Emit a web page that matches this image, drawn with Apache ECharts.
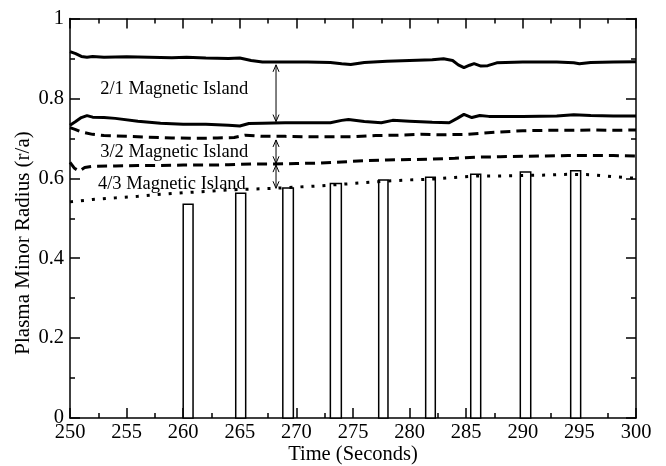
<!DOCTYPE html>
<html>
<head>
<meta charset="utf-8">
<script src="https://cdn.jsdelivr.net/npm/echarts@6/dist/echarts.min.js"></script>
<style>html,body{margin:0;padding:0;background:#fff;}#c{width:666px;height:466px;}</style>
</head>
<body>
<div id="c"></div>
<script>
// ---- Data ----
const xTitle = 'Time (Seconds)';
const yTitle = 'Plasma Minor Radius (r/a)';

// vertical bars: start time, end time, height (r/a)
const barStart = [260.0, 264.64, 268.8, 273.0, 277.27, 281.42, 285.4, 289.78, 294.23];
const barEnd   = [260.87, 265.52, 269.73, 273.97, 278.09, 282.27, 286.28, 290.7, 295.11];
const barTop   = [0.535, 0.5625, 0.576, 0.587, 0.596, 0.6025, 0.61, 0.616, 0.619];

// 2/1 island outer boundary (solid)
const outer21 = [[250.0,0.917],[250.5,0.912],[251.0,0.905],[251.5,0.903],[252.0,0.905],[253.0,0.903],[255.0,0.904],[257.0,0.903],[259.0,0.902],[260.3,0.903],[262.0,0.901],[264.0,0.900],[265.0,0.901],[266.0,0.895],[267.0,0.891],[269.0,0.891],[271.0,0.891],[273.0,0.890],[274.0,0.887],[274.8,0.885],[276.0,0.890],[278.0,0.893],[280.0,0.895],[282.0,0.897],[283.0,0.899],[283.8,0.895],[284.3,0.884],[284.8,0.877],[285.3,0.883],[285.7,0.887],[286.3,0.881],[286.9,0.882],[287.7,0.889],[290.0,0.891],[293.0,0.891],[294.5,0.889],[295.0,0.887],[296.0,0.890],[298.0,0.891],[300.0,0.892]];
// 2/1 island inner boundary (solid)
const inner21 = [[250.0,0.733],[250.5,0.742],[251.0,0.752],[251.5,0.757],[252.0,0.753],[253.0,0.752],[254.0,0.750],[256.0,0.743],[258.0,0.738],[260.0,0.735],[262.0,0.735],[264.0,0.733],[265.0,0.731],[265.8,0.737],[267.0,0.738],[269.0,0.739],[271.0,0.739],[273.0,0.739],[274.0,0.745],[274.6,0.747],[276.0,0.742],[277.5,0.739],[278.5,0.745],[280.0,0.743],[282.0,0.740],[283.5,0.739],[284.2,0.750],[284.8,0.760],[285.5,0.752],[286.2,0.757],[287.0,0.755],[290.0,0.755],[293.0,0.756],[294.5,0.759],[296.0,0.757],[298.0,0.756],[300.0,0.756]];
// 3/2 island outer boundary (dashed)
const outer32 = [[250.0,0.727],[250.5,0.722],[251.0,0.716],[252.0,0.710],[253.0,0.707],[255.0,0.705],[257.0,0.703],[259.0,0.701],[261.0,0.700],[263.0,0.701],[264.5,0.702],[265.5,0.708],[267.0,0.705],[269.0,0.705],[271.0,0.704],[273.0,0.704],[275.0,0.704],[277.0,0.707],[279.0,0.708],[281.0,0.710],[283.0,0.709],[285.0,0.710],[286.5,0.713],[288.0,0.716],[290.0,0.719],[292.0,0.720],[294.0,0.720],[296.0,0.721],[298.0,0.720],[300.0,0.721]];
// 3/2 island inner boundary (dashed)
const inner32 = [[250.0,0.640],[250.4,0.625],[250.8,0.618],[251.3,0.627],[252.0,0.630],[254.0,0.631],[256.0,0.632],[258.0,0.632],[260.0,0.633],[262.0,0.633],[264.0,0.634],[266.0,0.636],[268.0,0.636],[270.0,0.637],[272.0,0.638],[274.0,0.641],[276.0,0.644],[278.0,0.646],[280.0,0.647],[282.0,0.648],[284.0,0.650],[286.0,0.653],[288.0,0.654],[290.0,0.655],[292.0,0.656],[294.0,0.657],[296.0,0.657],[298.0,0.657],[300.0,0.656]];
// 4/3 island inner boundary (dotted)
const inner43 = [[250.0,0.541],[252.0,0.547],[254.0,0.551],[256.0,0.555],[258.0,0.560],[260.0,0.564],[262.0,0.567],[264.0,0.571],[266.0,0.573],[268.0,0.575],[270.0,0.578],[272.0,0.581],[274.0,0.585],[276.0,0.589],[278.0,0.593],[280.0,0.596],[282.0,0.598],[284.0,0.602],[286.0,0.606],[288.0,0.606],[290.0,0.607],[292.0,0.608],[294.0,0.610],[296.0,0.609],[298.0,0.604],[300.0,0.600]];

// double-headed arrows: time, from, to
const arrowX    = [268.2, 268.2, 268.2];
const arrowFrom = [0.884, 0.696, 0.633];
const arrowTo   = [0.742, 0.6375, 0.575];

// annotation labels
const labelText = ['2/1 Magnetic Island', '3/2 Magnetic Island', '4/3 Magnetic Island'];
const labelX    = [259.2, 259.2, 259.0];
const labelY    = [0.824, 0.666, 0.5865];

const xTicks = [250, 255, 260, 265, 270, 275, 280, 285, 290, 295, 300];
const yTicks = [0, 0.2, 0.4, 0.6, 0.8, 1];

// ---- Chart ----
const FONT = "'Liberation Serif', 'DejaVu Serif', serif";
const chart = echarts.init(document.getElementById('c'), null, {renderer: 'canvas'});

function axisCommon(extra) {
  return Object.assign({
    axisLine: {show: true, onZero: false, lineStyle: {color: '#000', width: 1.5}},
    axisTick: {show: true, inside: true, length: 10, lineStyle: {color: '#000', width: 1.5}},
    minorTick: {show: true, splitNumber: 2, length: 5, lineStyle: {color: '#000', width: 1.5}},
    splitLine: {show: false},
    minorSplitLine: {show: false}
  }, extra);
}

const lineStyleSolid = {color: '#000', width: 3};
function lineSeries(data, type) {
  return {
    type: 'line', xAxisIndex: 0, yAxisIndex: 0, data: data, showSymbol: false, symbol: 'none',
    smooth: false, z: 3, silent: true,
    lineStyle: Object.assign({}, lineStyleSolid, type ? {type: type, cap: 'butt'} : {})
  };
}

const option = {
  animation: false,
  backgroundColor: '#fff',
  grid: {left: 70, right: 30, top: 18.5, bottom: 48, containLabel: false, outerBoundsMode: 'none'},
  xAxis: [
    axisCommon({
      type: 'value', min: xTicks[0], max: xTicks[xTicks.length - 1], interval: 5, position: 'bottom',
      name: xTitle, nameLocation: 'middle', nameGap: 26, nameMoveOverlap: false,
      nameTextStyle: {fontFamily: FONT, fontSize: 20.5, color: '#000'},
      axisLabel: {show: true, margin: 4, fontFamily: FONT, fontSize: 20.5, color: '#000'}
    }),
    axisCommon({
      type: 'value', min: xTicks[0], max: xTicks[xTicks.length - 1], interval: 5, position: 'top',
      axisLabel: {show: false}
    })
  ],
  yAxis: [
    axisCommon({
      type: 'value', min: yTicks[0], max: yTicks[yTicks.length - 1], interval: 0.2, position: 'left',
      axisLabel: {show: true, margin: 6, fontFamily: FONT, fontSize: 20.5, color: '#000',
        formatter: v => (v === 0 || v === 1) ? String(v) : v.toFixed(1)}
    }),
    axisCommon({
      type: 'value', min: yTicks[0], max: yTicks[yTicks.length - 1], interval: 0.2, position: 'right',
      axisLabel: {show: false}
    })
  ],
  graphic: [{
    type: 'text', x: 23, y: 243, rotation: Math.PI / 2,
    style: {text: yTitle, fontFamily: FONT, fontSize: 21, fill: '#000', align: 'center', verticalAlign: 'middle'}
  }],
  series: [
    {
      type: 'custom', xAxisIndex: 0, yAxisIndex: 0, z: 1, silent: true,
      data: barStart.map((s, i) => [s, barEnd[i], barTop[i]]),
      renderItem: function (params, api) {
        const p0 = api.coord([api.value(0), api.value(2)]);
        const p1 = api.coord([api.value(1), 0]);
        return {
          type: 'rect',
          shape: {x: p0[0], y: p0[1], width: p1[0] - p0[0], height: p1[1] - p0[1]},
          style: {fill: '#fff', stroke: '#000', lineWidth: 1.5}
        };
      }
    },
    lineSeries(outer21, null),
    lineSeries(inner21, null),
    lineSeries(outer32, [10, 6]),
    lineSeries(inner32, [10, 6]),
    lineSeries(inner43, [3, 8]),
    {
      type: 'custom', xAxisIndex: 0, yAxisIndex: 0, z: 4, silent: true,
      data: arrowX.map((x, i) => [x, arrowFrom[i], arrowTo[i]]),
      renderItem: function (params, api) {
        const a = api.coord([api.value(0), api.value(1)]);
        const b = api.coord([api.value(0), api.value(2)]);
        const top = Math.min(a[1], b[1]), bot = Math.max(a[1], b[1]);
        const x = a[0];
        const st = {stroke: '#000', lineWidth: 1, fill: null};
        return {
          type: 'group',
          children: [
            {type: 'line', shape: {x1: x, y1: top, x2: x, y2: bot}, style: st},
            {type: 'polyline', shape: {points: [[x - 3, top + 7], [x, top], [x + 3, top + 7]]}, style: st},
            {type: 'polyline', shape: {points: [[x - 3, bot - 7], [x, bot], [x + 3, bot - 7]]}, style: st}
          ]
        };
      }
    },
    {
      type: 'custom', xAxisIndex: 0, yAxisIndex: 0, z: 5, silent: true,
      data: labelX.map((x, i) => [x, labelY[i], i]),
      renderItem: function (params, api) {
        const p = api.coord([api.value(0), api.value(1)]);
        return {
          type: 'text', x: p[0], y: p[1],
          style: {text: labelText[api.value(2)], fontFamily: FONT, fontSize: 18.5, fill: '#000',
            align: 'center', verticalAlign: 'middle'}
        };
      }
    }
  ]
};
chart.setOption(option);
</script>
</body>
</html>
